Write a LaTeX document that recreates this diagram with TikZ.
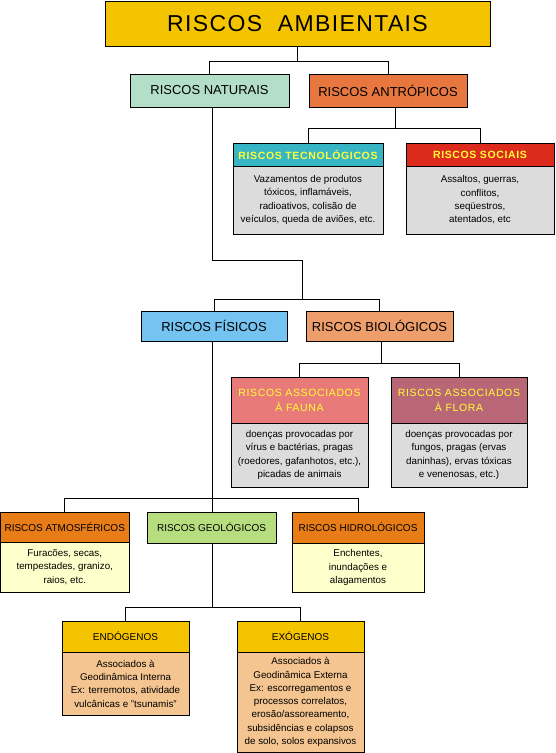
\documentclass[tikz,border=0pt]{standalone}
\usepackage{fontspec}
\setmainfont{Liberation Sans}
\newfontfamily\spfont[LetterSpace=6]{Liberation Sans}
\definecolor{cAmb}{HTML}{F5C400}
\definecolor{cNat}{HTML}{B3DFC8}
\definecolor{cAnt}{HTML}{E8773F}
\definecolor{cTec}{HTML}{38B5C5}
\definecolor{cSoc}{HTML}{DC2B1D}
\definecolor{cGray}{HTML}{DCDCDC}
\definecolor{cFis}{HTML}{75C3F1}
\definecolor{cBio}{HTML}{EE9E6A}
\definecolor{cFau}{HTML}{E87B79}
\definecolor{cFlo}{HTML}{B96777}
\definecolor{cOra}{HTML}{E87C17}
\definecolor{cLY}{HTML}{FFFFCC}
\definecolor{cGeo}{HTML}{B6DE7E}
\definecolor{cPea}{HTML}{F4C590}
\definecolor{cYT}{HTML}{FFFF33}
\begin{document}
\begin{tikzpicture}[x=1pt,y=-1pt,
  bx/.style={draw=black, line width=0.9pt, inner sep=0pt, align=center},
  head/.style={bx, font=\fontsize{13}{15}\selectfont},
  small/.style={bx, font=\fontsize{10}{12}\selectfont},
  ylw/.style={bx, text=cYT, font=\spfont\fontsize{10.5}{15}\selectfont},
  ylwb/.style={bx, text=cYT, font=\spfont\bfseries\fontsize{10.5}{12}\selectfont},
  body/.style={bx, fill=cGray, font=\fontsize{9.8}{13.3}\selectfont},
  conn/.style={draw=black, line width=0.9pt}]
\fill[white] (0,0) rectangle (556,753);
\useasboundingbox (0,0) rectangle (556,753);

% top
\node[bx, fill=cAmb, minimum width=385pt, minimum height=45pt, font=\spfont\fontsize{23}{26}\selectfont] (amb) at (297.5,23.5) {RISCOS\ \ AMBIENTAIS};
\node[head, fill=cNat, minimum width=159pt, minimum height=33pt] (nat) at (209.5,90.5) {RISCOS NATURAIS};
\node[head, fill=cAnt, minimum width=158pt, minimum height=33pt] (ant) at (388,90.5) {RISCOS ANTRÓPICOS};

% antropicos
\node[ylwb, fill=cTec, minimum width=150pt, minimum height=23pt] (tecH) at (308,154.5) {RISCOS TECNOLÓGICOS};
\node[body, minimum width=150pt, minimum height=68pt] (tecB) at (308,200) {Vazamentos de produtos\\tóxicos, inflamáveis,\\radioativos, colisão de\\veículos, queda de aviões, etc.};
\node[ylwb, fill=cSoc, minimum width=148pt, minimum height=23pt] (socH) at (480,154.5) {RISCOS SOCIAIS};
\node[body, minimum width=148pt, minimum height=68pt] (socB) at (480,200) {Assaltos, guerras,\\conflitos,\\seqüestros,\\atentados, etc};

% naturais
\node[head, fill=cFis, minimum width=146pt, minimum height=30pt] (fis) at (214,326) {RISCOS FÍSICOS};
\node[head, fill=cBio, minimum width=147pt, minimum height=30pt] (bio) at (379.5,326) {RISCOS BIOLÓGICOS};

% biologicos
\node[ylw, fill=cFau, minimum width=137pt, minimum height=46pt] (fauH) at (299.5,400) {RISCOS ASSOCIADOS\\À FAUNA};
\node[body, minimum width=137pt, minimum height=64pt] (fauB) at (299.5,455) {doenças provocadas por\\vírus e bactérias, pragas\\(roedores, gafanhotos, etc.),\\picadas de animais};
\node[ylw, fill=cFlo, minimum width=136pt, minimum height=46pt] (floH) at (459,400) {RISCOS ASSOCIADOS\\À FLORA};
\node[body, minimum width=136pt, minimum height=64pt] (floB) at (459,455) {doenças provocadas por\\fungos, pragas (ervas\\daninhas), ervas tóxicas\\e venenosas, etc.)};

% fisicos
\node[small, fill=cOra, minimum width=129pt, minimum height=30pt] (atmH) at (64.75,527) {RISCOS ATMOSFÉRICOS};
\node[body, fill=cLY, minimum width=129pt, minimum height=50pt] (atmB) at (64.75,567) {Furacões, secas,\\tempestades, granizo,\\raios, etc.};
\node[small, fill=cGeo, minimum width=129pt, minimum height=31pt] (geo) at (211.5,527.5) {RISCOS GEOLÓGICOS};
\node[small, fill=cOra, minimum width=132pt, minimum height=31pt] (hidH) at (358,527.5) {RISCOS HIDROLÓGICOS};
\node[body, fill=cLY, minimum width=132pt, minimum height=49pt] (hidB) at (358,567.5) {Enchentes,\\inundações e\\alagamentos};

% geologicos
\node[small, fill=cAmb, minimum width=127pt, minimum height=31pt] (endH) at (125.5,636.5) {ENDÓGENOS};
\node[body, fill=cPea, minimum width=127pt, minimum height=63pt] (endB) at (125.5,683.5) {Associados à\\Geodinâmica Interna\\Ex: terremotos, atividade\\vulcânicas e "tsunamis"};
\node[small, fill=cAmb, minimum width=127pt, minimum height=31pt] (exoH) at (300.5,636.5) {EXÓGENOS};
\node[body, fill=cPea, minimum width=127pt, minimum height=100pt] (exoB) at (300.5,702) {Associados à\\Geodinâmica Externa\\Ex: escorregamentos e\\processos correlatos,\\erosão/assoreamento,\\subsidências e colapsos\\de solo, solos expansivos};

% connectors
\coordinate (j1) at (297.5,61);
\draw[conn] (amb.south) -- (j1);
\draw[conn] (j1) -| (nat.north);
\draw[conn] (j1) -| (ant.north);

\coordinate (j2) at (395,128);
\draw[conn] (j2 |- ant.south) -- (j2);
\draw[conn] (j2) -| (tecH.north);
\draw[conn] (j2) -| (socH.north);

\coordinate (b1) at (212,260);
\coordinate (j3) at (302,299);
\draw[conn] (b1 |- nat.south) -- (b1) -| (j3);
\draw[conn] (j3) -| (fis.north);
\draw[conn] (j3) -| (bio.north);

\coordinate (j4) at (381,363);
\draw[conn] (j4 |- bio.south) -- (j4);
\draw[conn] (j4) -| (fauH.north);
\draw[conn] (j4) -| (floH.north);

\coordinate (j5) at (212,498);
\draw[conn] (j5 |- fis.south) -- (j5);
\draw[conn] (j5) -| (atmH.north);
\draw[conn] (j5) -| (hidH.north);
\draw[conn] (j5) -- (j5 |- geo.north);

\coordinate (j6) at (212,607);
\draw[conn] (j6 |- geo.south) -- (j6);
\draw[conn] (j6) -| (endH.north);
\draw[conn] (j6) -| (exoH.north);
\end{tikzpicture}
\end{document}
